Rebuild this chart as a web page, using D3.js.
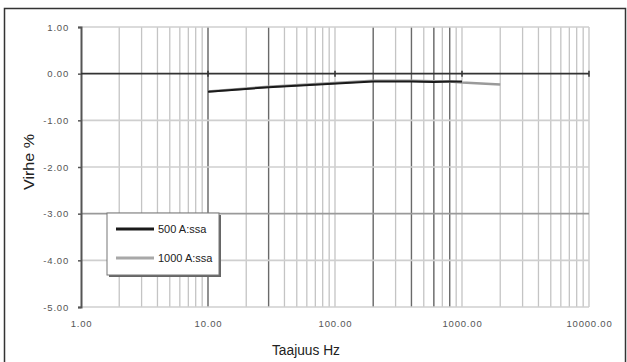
<!DOCTYPE html>
<html>
<head>
<meta charset="utf-8">
<script src="https://cdn.jsdelivr.net/npm/d3@7/dist/d3.min.js"></script>
<style>
  html, body { margin: 0; padding: 0; background: #fff; }
  svg { display: block; font-family: "Liberation Sans", Arial, sans-serif; }
</style>
</head>
<body>
<svg id="chart" width="627" height="362"></svg>
<script>
// Measured error (%) of the current transformer vs. frequency
const freqs     = [10, 30, 200, 400, 600, 800, 1000, 2000];
const err500A   = [-0.39, -0.29, -0.17, -0.17, -0.18, -0.17, -0.17];
const err1000A  = [-0.38, -0.28, -0.15, -0.15, -0.16, -0.17, -0.19, -0.23];
const seriesNames = ["500 A:ssa", "1000 A:ssa"];
const yTicks = [1, 0, -1, -2, -3, -4, -5];
const xDecades = [1, 10, 100, 1000, 10000];
const xTitle = "Taajuus Hz";
const yTitle = "Virhe %";

const svg = d3.select("#chart");
const plot = { left: 81, right: 589, top: 27, bottom: 307 };

const x = d3.scaleLog().domain([1, 10000]).range([plot.left, plot.right]);
const y = d3.scaleLinear().domain([-5, 1]).range([plot.bottom, plot.top]);

// outer frame
svg.append("rect")
  .attr("x", 4.5).attr("y", 8.5)
  .attr("width", 621).attr("height", 360)
  .attr("fill", "none").attr("stroke", "#333").attr("stroke-width", 1.5);

const g = svg.append("g");

// minor/major vertical grid: every 1..9 step of each decade
const gridX = [];
for (let d = 1; d < 10000; d *= 10) for (let k = 2; k <= 10; k++) gridX.push(d * k);
g.append("g").selectAll("line").data(gridX).join("line")
  .attr("x1", d => x(d)).attr("x2", d => x(d))
  .attr("y1", plot.top).attr("y2", plot.bottom)
  .attr("stroke", "#c4c4c4").attr("stroke-width", 1.3);

// heavier verticals at the measurement frequencies
g.append("g").selectAll("line").data(freqs.filter(f => f < 1000)).join("line")
  .attr("x1", d => x(d)).attr("x2", d => x(d))
  .attr("y1", plot.top).attr("y2", plot.bottom)
  .attr("stroke", "#6a6a6a").attr("stroke-width", 1.3);

// horizontal grid
g.append("g").selectAll("line").data(yTicks.filter(v => v !== 0)).join("line")
  .attr("x1", plot.left).attr("x2", plot.right)
  .attr("y1", d => y(d)).attr("y2", d => y(d))
  .attr("stroke", d => d === -3 ? "#9a9a9a" : "#cfcfcf").attr("stroke-width", 1.6);

const fmt = v => d3.format(".2f")(v).replace("\u2212", "-");

// y axis
const yAxis = d3.axisLeft(y).tickValues(yTicks).tickFormat(fmt).tickSize(3).tickPadding(9);
const ya = g.append("g").attr("transform", `translate(${plot.left},0)`).call(yAxis);
ya.select(".domain").attr("stroke", "#555").attr("stroke-width", 2);
ya.selectAll(".tick line").attr("stroke", "#555").attr("stroke-width", 1.5);
ya.selectAll(".tick text").attr("fill", "#555").attr("font-size", 9.5)
  .attr("letter-spacing", 0.8);

// x axis labels at the bottom
const xAxis = d3.axisBottom(x).tickValues(xDecades).tickFormat(fmt).tickSize(0).tickPadding(13);
const xa = g.append("g").attr("transform", `translate(0,${plot.bottom})`).call(xAxis);
xa.select(".domain").remove();
xa.selectAll(".tick text").attr("fill", "#555").attr("font-size", 9.5)
  .attr("letter-spacing", 0.8);

// zero line acting as the x axis, with decade ticks
g.append("line")
  .attr("x1", plot.left).attr("x2", plot.right)
  .attr("y1", y(0)).attr("y2", y(0))
  .attr("stroke", "#333").attr("stroke-width", 1.6);
g.append("g").selectAll("line").data(xDecades.slice(1)).join("line")
  .attr("x1", d => x(d)).attr("x2", d => x(d))
  .attr("y1", y(0) - 3).attr("y2", y(0) + 3)
  .attr("stroke", "#333").attr("stroke-width", 1.5);

// data series
const line = d3.line().x(d => x(d[0])).y(d => y(d[1]));
g.append("path")
  .datum(freqs.map((f, i) => [f, err1000A[i]]))
  .attr("d", line).attr("fill", "none")
  .attr("stroke", "#9a9a9a").attr("stroke-width", 2.5);
g.append("path")
  .datum(err500A.map((v, i) => [freqs[i], v]))
  .attr("d", line).attr("fill", "none")
  .attr("stroke", "#1a1a1a").attr("stroke-width", 2);

// legend
const lg = svg.append("g");
lg.append("rect").attr("x", 109).attr("y", 215).attr("width", 112).attr("height", 62)
  .attr("fill", "#666");
lg.append("rect").attr("x", 107).attr("y", 213).attr("width", 112).attr("height", 62)
  .attr("fill", "#fff").attr("stroke", "#777").attr("stroke-width", 1);
const legendItems = [
  { name: seriesNames[0], color: "#1a1a1a", yy: 229 },
  { name: seriesNames[1], color: "#a8a8a8", yy: 258 }
];
legendItems.forEach(it => {
  lg.append("line").attr("x1", 116).attr("x2", 154).attr("y1", it.yy).attr("y2", it.yy)
    .attr("stroke", it.color).attr("stroke-width", 3);
  lg.append("text").attr("x", 158).attr("y", it.yy + 4)
    .attr("font-size", 11).attr("fill", "#222").text(it.name);
});

// axis titles
svg.append("text").attr("x", 306).attr("y", 355).attr("text-anchor", "middle")
  .attr("font-size", 14).attr("fill", "#222")
  .attr("textLength", 68).attr("lengthAdjust", "spacingAndGlyphs").text(xTitle);
svg.append("text").attr("transform", "translate(34,162) rotate(-90)")
  .attr("text-anchor", "middle").attr("font-size", 14).attr("fill", "#222")
  .attr("textLength", 56).attr("lengthAdjust", "spacingAndGlyphs").text(yTitle);
</script>
</body>
</html>
